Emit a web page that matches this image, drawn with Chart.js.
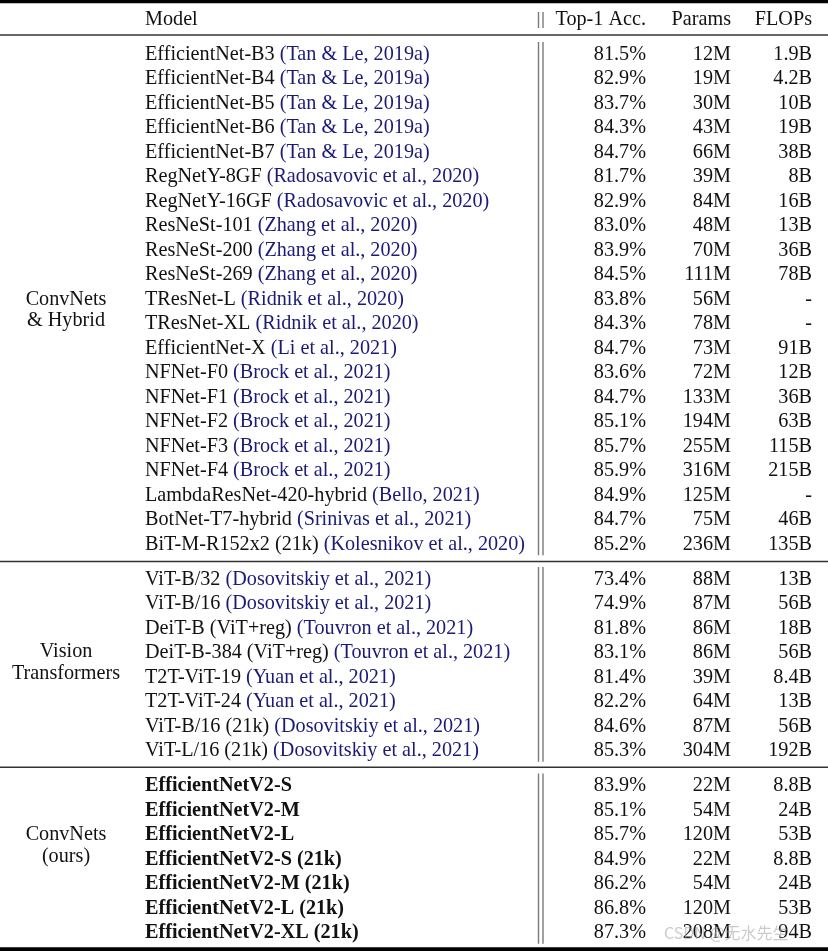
<!DOCTYPE html>
<html>
<head>
<meta charset="utf-8">
<script src="https://cdn.jsdelivr.net/npm/chart.js@4.4.1/dist/chart.umd.min.js"></script>
<style>
  html, body { margin: 0; padding: 0; background: #fff; }
  #table { display: block; }
</style>
</head>
<body>
<canvas id="table" width="828" height="951"></canvas>
<script>
// Table data
const groupNames = [['ConvNets', '& Hybrid'], ['Vision', 'Transformers'], ['ConvNets', '(ours)']];
const headers = ['Model', 'Top-1 Acc.', 'Params', 'FLOPs'];

const convModels = ['EfficientNet-B3', 'EfficientNet-B4', 'EfficientNet-B5', 'EfficientNet-B6', 'EfficientNet-B7',
  'RegNetY-8GF', 'RegNetY-16GF', 'ResNeSt-101', 'ResNeSt-200', 'ResNeSt-269', 'TResNet-L', 'TResNet-XL',
  'EfficientNet-X', 'NFNet-F0', 'NFNet-F1', 'NFNet-F2', 'NFNet-F3', 'NFNet-F4',
  'LambdaResNet-420-hybrid', 'BotNet-T7-hybrid', 'BiT-M-R152x2 (21k)'];
const convCites = ['Tan & Le, 2019a', 'Tan & Le, 2019a', 'Tan & Le, 2019a', 'Tan & Le, 2019a', 'Tan & Le, 2019a',
  'Radosavovic et al., 2020', 'Radosavovic et al., 2020', 'Zhang et al., 2020', 'Zhang et al., 2020', 'Zhang et al., 2020',
  'Ridnik et al., 2020', 'Ridnik et al., 2020', 'Li et al., 2021', 'Brock et al., 2021', 'Brock et al., 2021',
  'Brock et al., 2021', 'Brock et al., 2021', 'Brock et al., 2021', 'Bello, 2021', 'Srinivas et al., 2021',
  'Kolesnikov et al., 2020'];
const convTop1 = [81.5, 82.9, 83.7, 84.3, 84.7, 81.7, 82.9, 83.0, 83.9, 84.5, 83.8, 84.3, 84.7, 83.6, 84.7, 85.1, 85.7, 85.9, 84.9, 84.7, 85.2];
const convParams = ['12M', '19M', '30M', '43M', '66M', '39M', '84M', '48M', '70M', '111M', '56M', '78M', '73M', '72M', '133M', '194M', '255M', '316M', '125M', '75M', '236M'];
const convFlops = ['1.9B', '4.2B', '10B', '19B', '38B', '8B', '16B', '13B', '36B', '78B', '-', '-', '91B', '12B', '36B', '63B', '115B', '215B', '-', '46B', '135B'];

const vitModels = ['ViT-B/32', 'ViT-B/16', 'DeiT-B (ViT+reg)', 'DeiT-B-384 (ViT+reg)', 'T2T-ViT-19', 'T2T-ViT-24', 'ViT-B/16 (21k)', 'ViT-L/16 (21k)'];
const vitCites = ['Dosovitskiy et al., 2021', 'Dosovitskiy et al., 2021', 'Touvron et al., 2021', 'Touvron et al., 2021',
  'Yuan et al., 2021', 'Yuan et al., 2021', 'Dosovitskiy et al., 2021', 'Dosovitskiy et al., 2021'];
const vitTop1 = [73.4, 74.9, 81.8, 83.1, 81.4, 82.2, 84.6, 85.3];
const vitParams = ['88M', '87M', '86M', '86M', '39M', '64M', '87M', '304M'];
const vitFlops = ['13B', '56B', '18B', '56B', '8.4B', '13B', '56B', '192B'];

const oursModels = ['EfficientNetV2-S', 'EfficientNetV2-M', 'EfficientNetV2-L', 'EfficientNetV2-S (21k)', 'EfficientNetV2-M (21k)', 'EfficientNetV2-L (21k)', 'EfficientNetV2-XL (21k)'];
const oursTop1 = [83.9, 85.1, 85.7, 84.9, 86.2, 86.8, 87.3];
const oursParams = ['22M', '54M', '120M', '22M', '54M', '120M', '208M'];
const oursFlops = ['8.8B', '24B', '53B', '8.8B', '24B', '53B', '94B'];

// Layout (row units on y, pixels on x)
const ROW_GAP = 1.43;
const colGroup = 66, colModel = 145, colTop1 = 646, colParams = 731, colFlops = 812;
const vLines = [538.5, 543];
const serif = '"Liberation Serif", "Times New Roman", serif';
const FONT_SIZE = 20.2;
const TEXT_SHIFT = 1.5; // px, serif glyphs sit a bit high with 'middle'
const citeColor = '#1a1a78';

// Build sections
const sections = [
  { models: convModels, cites: convCites, top1: convTop1, params: convParams, flops: convFlops, bold: false },
  { models: vitModels, cites: vitCites, top1: vitTop1, params: vitParams, flops: vitFlops, bold: false },
  { models: oursModels, cites: null, top1: oursTop1, params: oursParams, flops: oursFlops, bold: true }
];
let start = 0;
sections.forEach((s, k) => {
  s.first = start;
  s.last = start + s.models.length - 1;
  start = s.last + ROW_GAP;
});
const headerY = -ROW_GAP;

// Rules
function hRule(y, width, color) {
  return {
    type: 'line', data: [{ x: 0, y: y }, { x: 828, y: y }],
    borderColor: color, borderWidth: width, pointRadius: 0, showLine: true
  };
}
function vRule(x, y0, y1) {
  return {
    type: 'line', data: [{ x: x, y: y0 }, { x: x, y: y1 }],
    borderColor: '#7a7a7a', borderWidth: 1.4, pointRadius: 0, showLine: true
  };
}

const datasets = [];
datasets.push(hRule(headerY - 0.68, 4, '#000'));
datasets.push(hRule(-0.73, 1.5, '#333'));
datasets.push(hRule(sections[0].last + 0.76, 1.5, '#333'));
datasets.push(hRule(sections[1].last + 0.72, 1.5, '#333'));
datasets.push(hRule(sections[2].last + 0.74, 5, '#000'));
vLines.forEach(x => {
  datasets.push(vRule(x, headerY - 0.24, headerY + 0.41));
  sections.forEach(s => datasets.push(vRule(x, s.first - 0.45, s.last + 0.5)));
});

// Text drawn through the scales
const textPlugin = {
  id: 'tableText',
  afterDatasetsDraw(chart) {
    const ctx = chart.ctx;
    const xs = chart.scales.x, ys = chart.scales.y;
    const px = v => xs.getPixelForValue(v);
    const py = v => ys.getPixelForValue(v) + TEXT_SHIFT;
    ctx.save();
    ctx.textBaseline = 'middle';
    ctx.fillStyle = '#111';
    ctx.font = FONT_SIZE + 'px ' + serif;

    // header
    ctx.textAlign = 'left';
    ctx.fillText(headers[0], px(colModel), py(headerY));
    ctx.textAlign = 'right';
    ctx.fillText(headers[1], px(colTop1), py(headerY));
    ctx.fillText(headers[2], px(colParams), py(headerY));
    ctx.fillText(headers[3], px(colFlops), py(headerY));

    sections.forEach((s, k) => {
      // group label
      ctx.font = FONT_SIZE + 'px ' + serif;
      ctx.fillStyle = '#111';
      ctx.textAlign = 'center';
      const labelTop = k === 0 ? 10 : (k === 1 ? s.first + 2.96 : s.first + 1.99);
      groupNames[k].forEach((t, j) => ctx.fillText(t, px(colGroup), py(labelTop + j * 0.88)));

      s.models.forEach((m, i) => {
        const y = py(s.first + i);
        ctx.textAlign = 'left';
        ctx.fillStyle = '#111';
        ctx.font = (s.bold ? 'bold ' : '') + FONT_SIZE + 'px ' + serif;
        ctx.fillText(m, px(colModel), y);
        if (s.cites) {
          const w = ctx.measureText(m + ' ').width;
          ctx.fillStyle = citeColor;
          ctx.fillText('(' + s.cites[i] + ')', px(colModel) + w, y);
        }
        ctx.font = FONT_SIZE + 'px ' + serif;
        ctx.fillStyle = '#111';
        ctx.textAlign = 'right';
        ctx.fillText(s.top1[i].toFixed(1) + '%', px(colTop1), y);
        ctx.fillText(s.params[i], px(colParams), y);
        ctx.fillText(s.flops[i], px(colFlops), y);
      });
    });

    // watermark
    ctx.textAlign = 'left';
    ctx.font = '16px "Noto Sans CJK SC", "Noto Sans", sans-serif';
    ctx.fillStyle = 'rgba(160,160,160,0.55)';
    ctx.fillText('CSDN @无水先生', px(664), py(sections[2].last));
    ctx.restore();
  }
};

const rowPx = 24.5;
const firstRowPx = 53;
const yMin = -firstRowPx / rowPx;
const yMax = yMin + 951 / rowPx;

new Chart(document.getElementById('table'), {
  type: 'scatter',
  data: { datasets: datasets },
  options: {
    responsive: false,
    animation: false,
    layout: { padding: 0 },
    plugins: { legend: { display: false }, tooltip: { enabled: false } },
    scales: {
      x: { type: 'linear', display: false, min: 0, max: 828 },
      y: { type: 'linear', display: false, reverse: true, min: yMin, max: yMax }
    }
  },
  plugins: [textPlugin]
});
</script>
</body>
</html>
